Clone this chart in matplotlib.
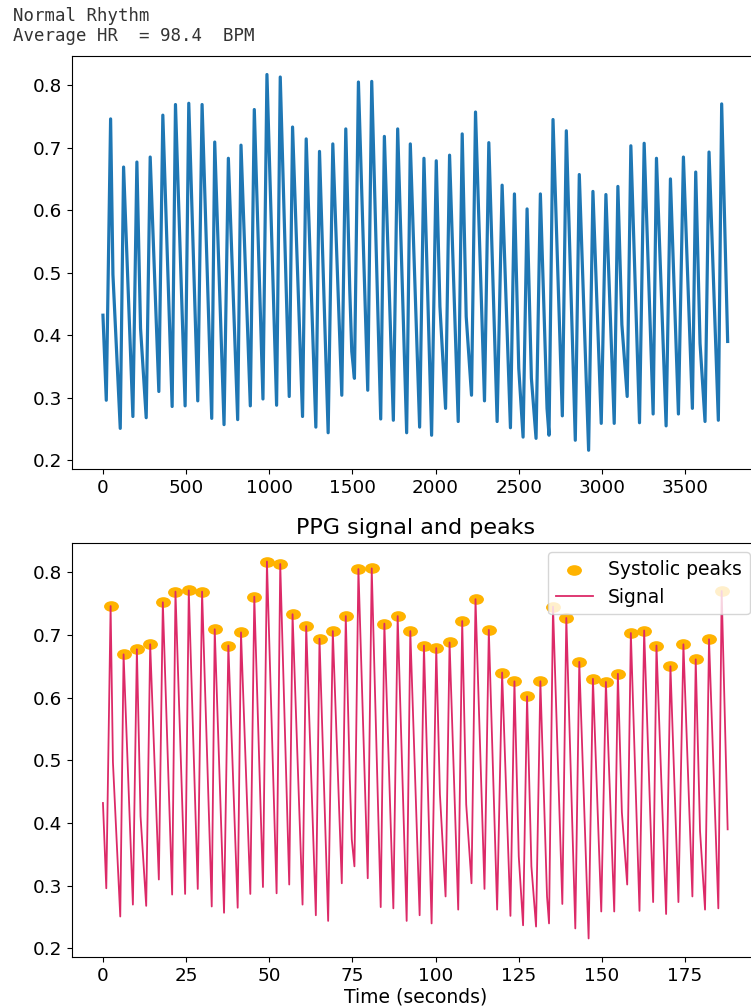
import matplotlib
matplotlib.use("Agg")
import matplotlib.pyplot as plt
import numpy as np
from matplotlib.path import Path
from matplotlib.transforms import Affine2D

# sampling rate of the PPG recording (samples per second)
fs = 20

# signal key points (time in seconds, amplitude)
start_t, start_v = 0.0, 0.432
end_t, end_v = 187.8, 0.390

trough_t = [1.0, 5.2, 9.0, 13.0, 16.8, 20.8, 24.7, 28.5, 32.7, 36.4, 40.5, 44.3,
            48.1, 52.2, 56.0, 60.0, 64.0, 67.7, 71.8, 75.6, 79.6, 83.5, 87.3, 91.3,
            95.2, 98.8, 103.0, 106.8, 110.8, 114.7, 118.5, 122.5, 126.3, 130.2, 134.1, 138.1,
            142.0, 146.0, 149.8, 153.7, 157.6, 161.3, 165.4, 169.3, 173.0, 177.2, 181.0, 185.0]
trough_v = [0.296, 0.251, 0.270, 0.268, 0.310, 0.286, 0.287, 0.295, 0.267, 0.257, 0.265, 0.287,
            0.298, 0.288, 0.302, 0.270, 0.253, 0.244, 0.304, 0.331, 0.312, 0.266, 0.264, 0.244,
            0.253, 0.240, 0.283, 0.262, 0.304, 0.295, 0.262, 0.252, 0.237, 0.235, 0.240, 0.271,
            0.232, 0.216, 0.259, 0.259, 0.302, 0.260, 0.274, 0.255, 0.274, 0.283, 0.262, 0.264]

peak_t = [2.3, 6.2, 10.2, 14.2, 18.0, 21.8, 25.8, 29.8, 33.6, 37.7, 41.5, 45.5,
          49.3, 53.3, 57.0, 61.1, 65.1, 69.1, 73.0, 76.8, 80.8, 84.6, 88.6, 92.4,
          96.5, 100.2, 104.2, 108.0, 112.0, 116.0, 120.0, 123.7, 127.5, 131.5, 135.3, 139.3,
          143.2, 147.3, 151.2, 154.8, 158.7, 162.7, 166.4, 170.6, 174.5, 178.2, 182.2, 186.0]
peak_v = [0.746, 0.669, 0.677, 0.685, 0.752, 0.769, 0.771, 0.769, 0.709, 0.683, 0.704, 0.761,
          0.817, 0.813, 0.733, 0.714, 0.694, 0.706, 0.730, 0.805, 0.806, 0.718, 0.730, 0.706,
          0.683, 0.679, 0.688, 0.722, 0.757, 0.708, 0.640, 0.626, 0.602, 0.626, 0.745, 0.727,
          0.657, 0.630, 0.625, 0.638, 0.703, 0.707, 0.683, 0.650, 0.685, 0.661, 0.693, 0.770]

# dicrotic notches that are visible on the falling edge
notch_t = [3.0, 11.3, 74.2, 74.8, 101.3, 109.2, 125.0, 128.8, 133.5, 156.0, 179.5]
notch_v = [0.497, 0.411, 0.472, 0.374, 0.446, 0.430, 0.347, 0.331, 0.283, 0.417, 0.387]

avg_hr = 98.4

# ---------- assemble the waveform ----------
pts = sorted(zip([start_t] + trough_t + peak_t + notch_t + [end_t],
                 [start_v] + trough_v + peak_v + notch_v + [end_v]))
t = np.array([p[0] for p in pts])
sig = np.array([p[1] for p in pts])
samples = t * fs

fig = plt.figure(figsize=(7.51, 10.08), dpi=100)
ax1 = fig.add_axes([0.0955, 0.5347, 0.915, 0.410])
ax2 = fig.add_axes([0.0955, 0.0503, 0.915, 0.4113])

fig.text(0.017, 0.993, f"Normal Rhythm\nAverage HR  = {avg_hr}  BPM",
         family="DejaVu Sans Mono", fontsize=12.5, color="#333333",
         va="top", ha="left", linespacing=1.15)

# ---------- top: raw samples ----------
ax1.plot(samples, sig, color="#1f77b4", lw=2.3)
ax1.set_yticks([0.2, 0.3, 0.4, 0.5, 0.6, 0.7, 0.8])
ax1.set_xticks(np.arange(0, 3501, 500))
ax1.tick_params(labelsize=13.2)

# ---------- bottom: time axis + systolic peaks ----------
ell = Path.unit_circle().transformed(Affine2D().scale(1.4, 1.0))
ax2.scatter(peak_t, peak_v, s=115, marker=ell, color="#FFB300", linewidths=0,
            label="Systolic peaks")
ax2.plot(t, sig, color="#DC2A68", lw=1.3, label="Signal")
ax2.set_yticks([0.2, 0.3, 0.4, 0.5, 0.6, 0.7, 0.8])
ax2.set_xticks(np.arange(0, 176, 25))
ax2.tick_params(labelsize=13.2)
ax2.set_title("PPG signal and peaks", fontsize=16)
ax2.set_xlabel("Time (seconds)", fontsize=13.5, labelpad=2)
ax2.legend(loc="upper right", fontsize=13.5)

fig.savefig("out.png", dpi=100)
